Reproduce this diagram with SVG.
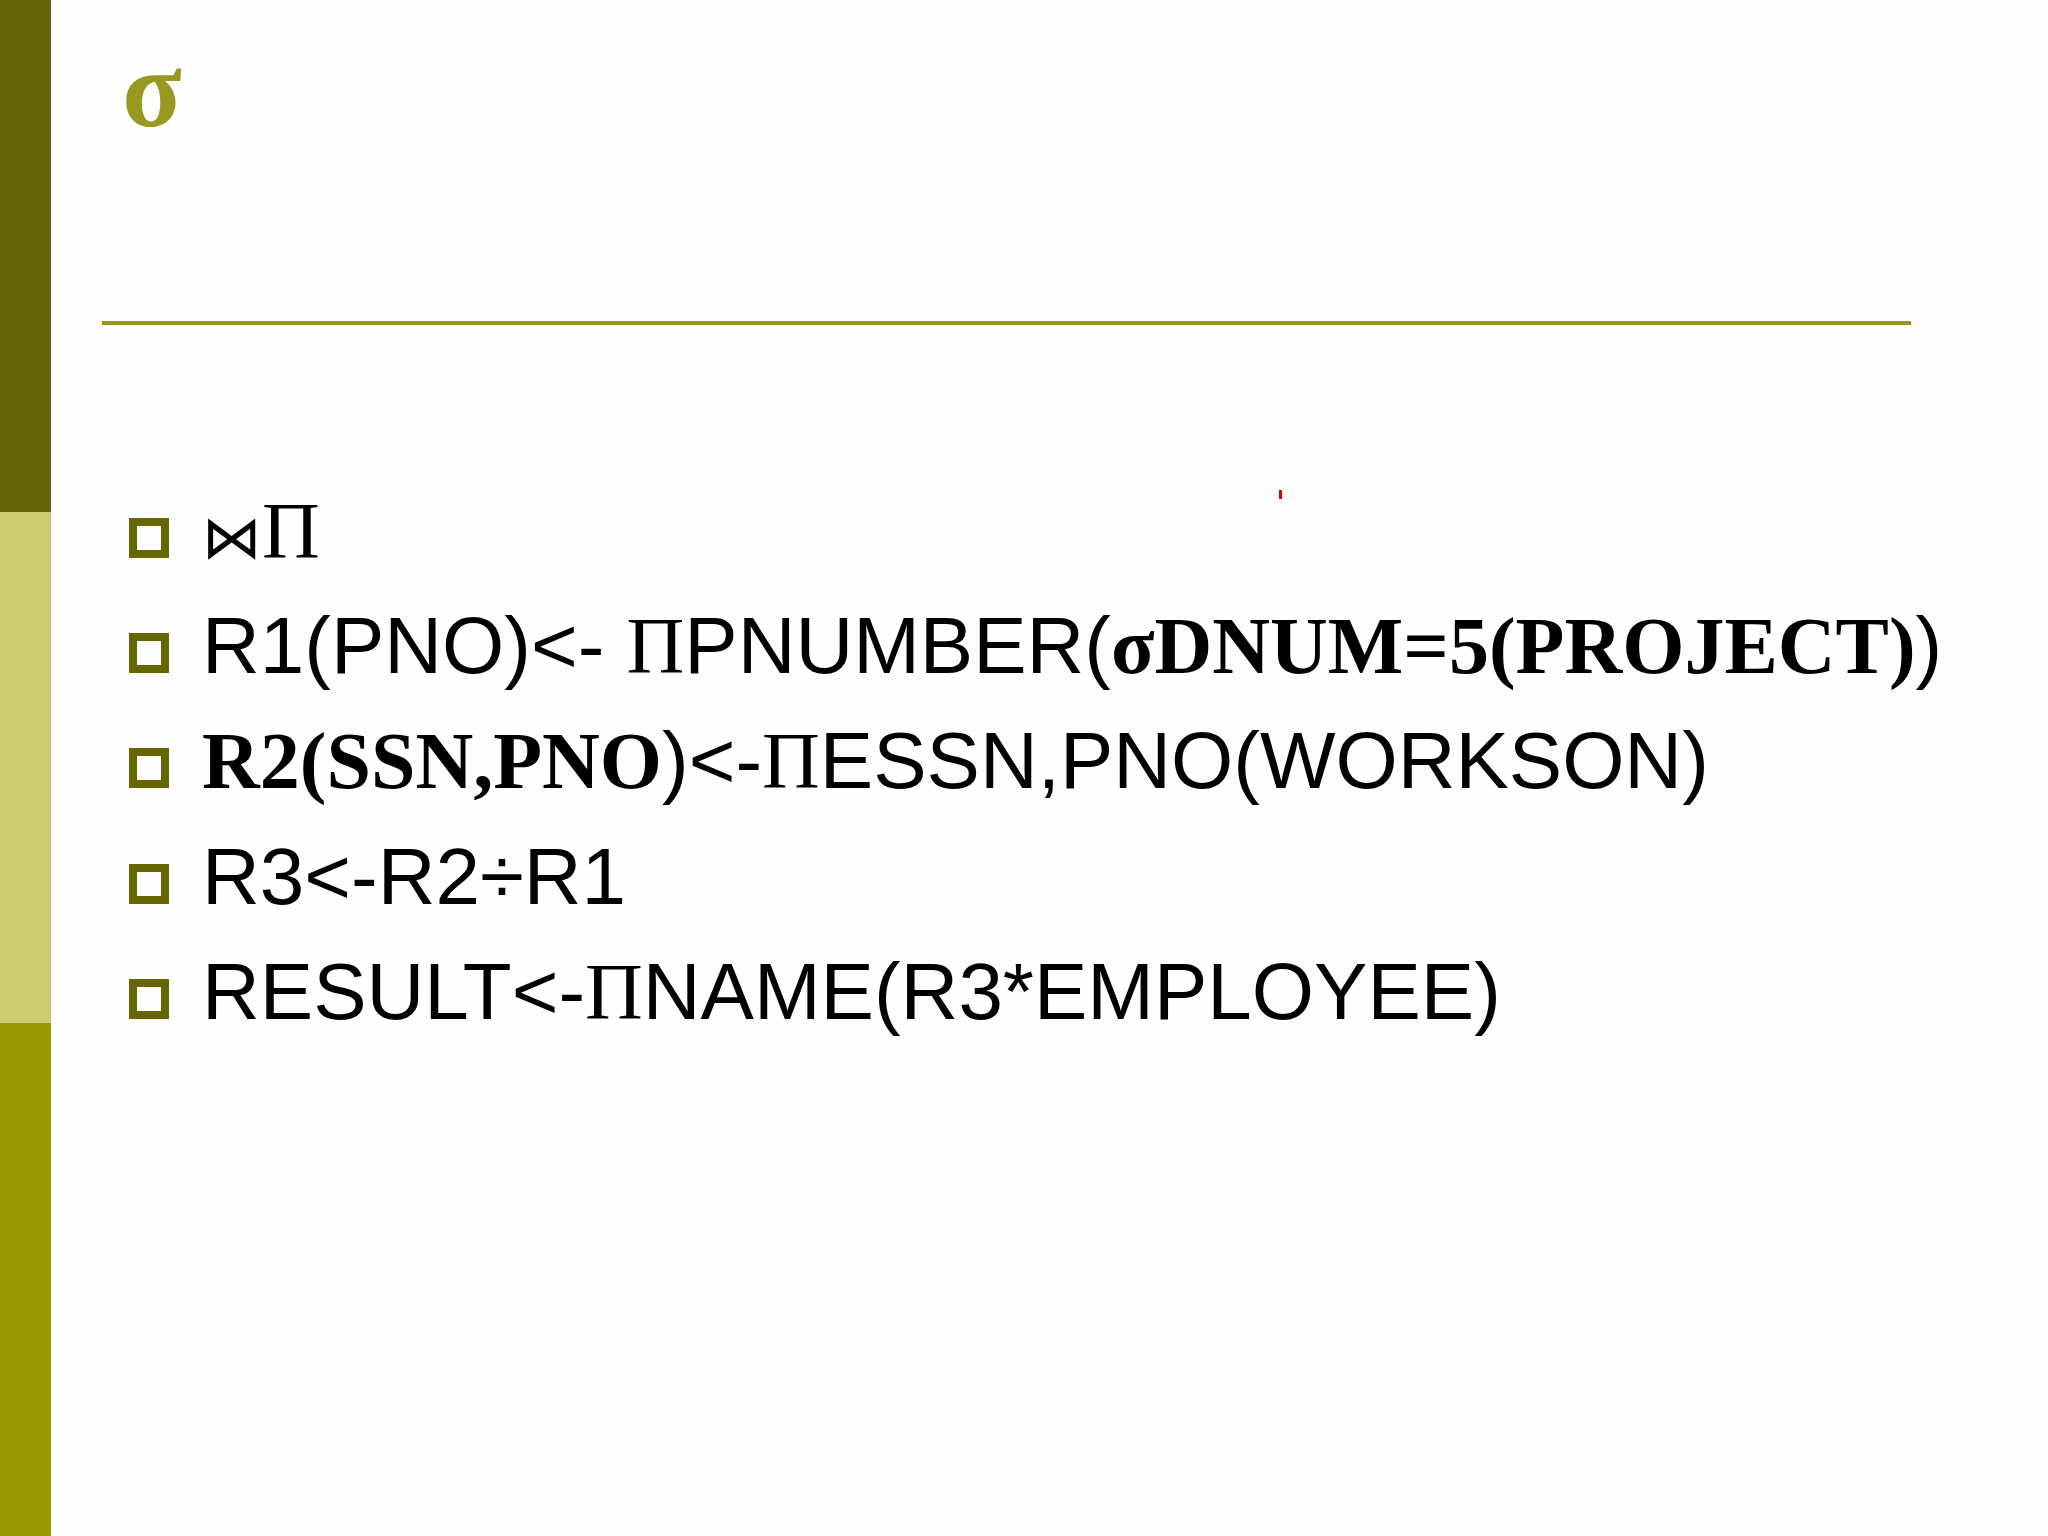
<svg xmlns="http://www.w3.org/2000/svg" width="2048" height="1536" viewBox="0 0 2048 1536">
<style>
.t{font-family:"Liberation Sans",Arial,sans-serif;font-size:80px;fill:#000}
.s{font-family:"Liberation Serif","DejaVu Serif",serif}
.b{font-family:"Liberation Serif","DejaVu Serif",serif;font-weight:bold}
.bul{fill:none;stroke:#666600;stroke-width:8}
</style>
<rect width="2048" height="1536" fill="#fefefe"/>
<rect x="0" y="0" width="51" height="512" fill="#666608"/>
<rect x="0" y="512" width="51" height="511" fill="#cccc6e"/>
<rect x="0" y="1023" width="51" height="513" fill="#999900"/>
<text x="122" y="126" font-family="Liberation Serif,serif" font-weight="bold" font-size="110" fill="#999922">σ</text>
<line x1="102" y1="323" x2="1911" y2="323" stroke="#999911" stroke-width="4"/>
<rect x="1279" y="490" width="3" height="9" fill="#e00000"/>
<g id="bullets">
<rect class="bul" x="133" y="522" width="32" height="32"/>
<rect class="bul" x="133" y="637" width="32" height="32"/>
<rect class="bul" x="133" y="752" width="32" height="32"/>
<rect class="bul" x="133" y="868" width="32" height="32"/>
<rect class="bul" x="133" y="983" width="32" height="32"/>
</g>
<g id="lines">
<text class="t" x="202" y="558"><tspan font-family="DejaVu Sans,sans-serif" font-size="60">⋈</tspan><tspan class="s">Π</tspan></text>
<text class="t" x="202" y="673">R1(PNO)&lt;- <tspan class="s">Π</tspan>PNUMBER(<tspan class="b">σDNUM=5(PROJECT)</tspan>)</text>
<text class="t" x="202" y="788"><tspan class="b">R2(SSN,PNO</tspan>)&lt;-<tspan class="s">Π</tspan>ESSN,PNO(WORKSON)</text>
<text class="t" x="202" y="904">R3&lt;-R2÷R1</text>
<text class="t" x="202" y="1019">RESULT&lt;-<tspan class="s">Π</tspan>NAME(R3*EMPLOYEE)</text>
</g>
</svg>
